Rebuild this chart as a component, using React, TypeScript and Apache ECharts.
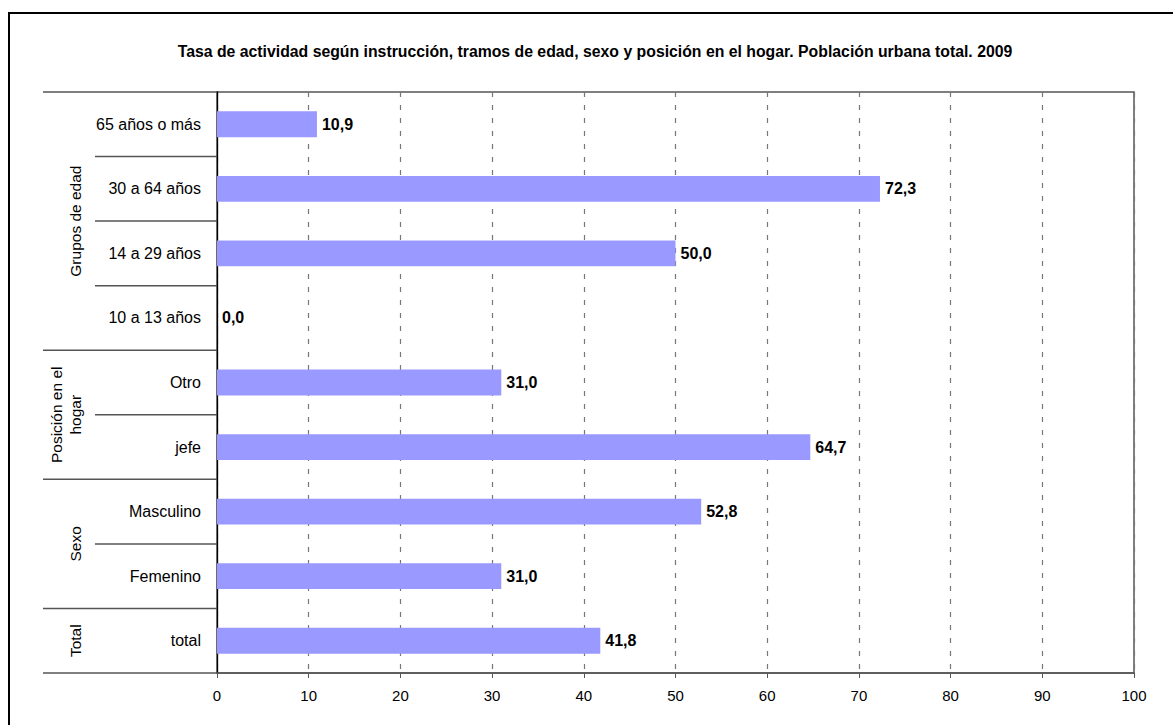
import React, { useEffect, useRef } from "react";
import * as echarts from "echarts";

const categories = [
  "65 años o más",
  "30 a 64 años",
  "14 a 29 años",
  "10 a 13 años",
  "Otro",
  "jefe",
  "Masculino",
  "Femenino",
  "total",
];
const values = [10.9, 72.3, 50.0, 0.0, 31.0, 64.7, 52.8, 31.0, 41.8];
const groupNames = ["Grupos de edad", "Posición en el\nhogar", "Sexo", "Total"];
const groupSizes = [4, 2, 2, 1];
const xMin = 0;
const xMax = 100;
const xStep = 10;
const titleText =
  "Tasa de actividad según instrucción, tramos de edad, sexo y posición en el hogar. Población urbana total. 2009";

const FONT = "'Liberation Sans', Arial, sans-serif";

export default function App() {
  const ref = useRef<HTMLDivElement>(null);
  useEffect(() => {
    if (!ref.current) return;
    const chart = echarts.init(ref.current, null, { renderer: "svg" });
    chart.setOption({
      animation: false,
      backgroundColor: "#ffffff",
      grid: {
        left: 217,
        top: 92,
        right: 39,
        bottom: 52,
        show: true,
        borderColor: "#555555",
        borderWidth: 1.5,
        backgroundColor: "transparent",
      },
      xAxis: {
        type: "value",
        min: xMin,
        max: xMax,
        interval: xStep,
        axisLine: { show: true, lineStyle: { color: "#555555", width: 1.5 } },
        axisTick: { show: true, length: 5, lineStyle: { color: "#555555" } },
        axisLabel: { color: "#000", fontSize: 15, fontFamily: FONT, margin: 15 },
        splitLine: {
          show: true,
          lineStyle: { color: "#777777", type: [5, 8], width: 1.2 },
        },
      },
      yAxis: {
        type: "category",
        inverse: true,
        data: categories,
        axisLine: { show: true, lineStyle: { color: "#000", width: 1.3 } },
        axisTick: { show: false },
        axisLabel: { color: "#000", fontSize: 16, fontFamily: FONT, margin: 16 },
        splitLine: { show: false },
      },
      series: [
        {
          type: "bar",
          data: values,
          barWidth: "40%",
          itemStyle: { color: "#9999FF" },
          label: {
            show: true,
            position: "right",
            distance: 5,
            color: "#000",
            fontSize: 16,
            fontWeight: "bold",
            fontFamily: FONT,
            formatter: (p: any) => Number(p.value).toFixed(1).replace(".", ","),
          },
        },
      ],
    });

    const yc = (i: number) => chart.convertToPixel({ yAxisIndex: 0 }, i) as number;
    const band = Math.abs(yc(1) - yc(0));
    const axisX = chart.convertToPixel({ xAxisIndex: 0 }, xMin) as number;
    const boundary = (k: number) => (k < categories.length ? yc(k) - band / 2 : yc(categories.length - 1) + band / 2);

    const groupStarts: number[] = [];
    let acc = 0;
    groupSizes.forEach((s) => {
      groupStarts.push(acc);
      acc += s;
    });
    const groupBounds = new Set<number>([...groupStarts, categories.length]);

    const graphics: any[] = [];
    graphics.push({
      type: "rect",
      shape: { x: 9, y: 13, width: 1300, height: 900 },
      style: { fill: "none", stroke: "#000", lineWidth: 2 },
      silent: true,
      z: 10,
    });
    graphics.push({
      type: "text",
      x: 595,
      y: 51,
      style: {
        text: titleText,
        font: `bold 15.8px ${FONT}`,
        fill: "#000",
        textAlign: "center",
        textVerticalAlign: "middle",
      },
    });
    for (let k = 0; k <= categories.length; k++) {
      const y = boundary(k);
      const x1 = groupBounds.has(k) ? 43 : 95;
      graphics.push({
        type: "line",
        shape: { x1, y1: y, x2: axisX, y2: y },
        style: { stroke: "#555555", lineWidth: 1.5 },
        silent: true,
      });
    }
    groupNames.forEach((name, gi) => {
      const top = boundary(groupStarts[gi]);
      const bottom = boundary(groupStarts[gi] + groupSizes[gi]);
      const twoLines = name.indexOf("\n") >= 0;
      graphics.push({
        type: "text",
        x: twoLines ? 66 : 75,
        y: (top + bottom) / 2,
        rotation: Math.PI / 2,
        style: {
          text: name,
          font: `15.5px ${FONT}`,
          fill: "#000",
          textAlign: "center",
          textVerticalAlign: "middle",
          lineHeight: 19,
        },
      });
    });
    chart.setOption({ graphic: graphics });

    return () => chart.dispose();
  }, []);
  return (
    <div
      ref={ref}
      style={{ position: "absolute", left: 0, top: 0, width: 1173, height: 725 }}
    />
  );
}
